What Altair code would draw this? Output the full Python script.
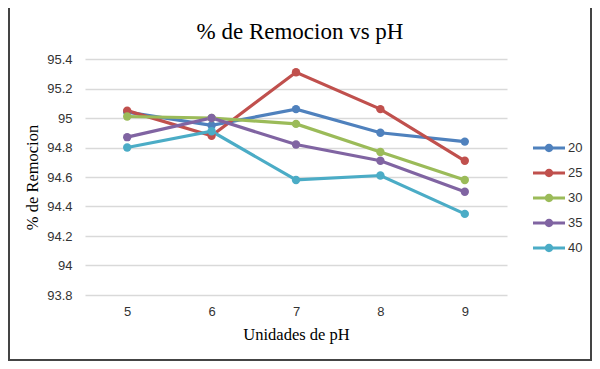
import altair as alt
import pandas as pd

ph = [5, 6, 7, 8, 9]
series = ["20", "25", "30", "35", "40"]
s20 = [95.04, 94.95, 95.06, 94.90, 94.84]
s25 = [95.05, 94.88, 95.31, 95.06, 94.71]
s30 = [95.01, 95.00, 94.96, 94.77, 94.58]
s35 = [94.87, 95.00, 94.82, 94.71, 94.50]
s40 = [94.80, 94.91, 94.58, 94.61, 94.35]
colors = ["#4F81BD", "#C0504D", "#9BBB59", "#8064A2", "#4BACC6"]
y_ticks = [93.8, 94.0, 94.2, 94.4, 94.6, 94.8, 95.0, 95.2, 95.4]

rows = []
for name, vals in zip(series, [s20, s25, s30, s35, s40]):
    for p, v in zip(ph, vals):
        rows.append({"pH": p, "serie": name, "valor": v})
df = pd.DataFrame(rows)

W, H = 422, 236
PL, PT, PR, PB = 77, 51, 85, 66

legend_path = ("M-1.6,-0.15H1.6V0.15H-1.6Z "
               "M-0.42,0A0.42,0.42 0 1,1 0.42,0A0.42,0.42 0 1,1 -0.42,0Z")

color = alt.Color(
    "serie:N",
    scale=alt.Scale(domain=series, range=colors),
    legend=alt.Legend(
        title=None, orient="none", legendX=454, legendY=79,
        symbolType=legend_path, symbolSize=400, symbolStrokeWidth=0,
        labelFont="Liberation Sans", labelFontSize=13, labelColor="#333333",
        labelOffset=9, rowPadding=8, padding=0,
    ),
)

x = alt.X("pH:O", axis=alt.Axis(
    title="Unidades de pH", labelAngle=0, ticks=False, domain=False,
    labelFont="Liberation Sans", labelFontSize=13, labelColor="#333333",
    labelPadding=10, titleFont="Liberation Serif", titleFontSize=16.5,
    titleFontWeight="normal", titleColor="#000000", titlePadding=8,
))
y = alt.Y("valor:Q", scale=alt.Scale(domain=[93.8, 95.4], zero=False, nice=False),
          axis=alt.Axis(
              title="% de Remocion", values=y_ticks, format="~f", ticks=False,
              domain=False, gridColor="#d9d9d9", gridWidth=1.3,
              labelFont="Liberation Sans", labelFontSize=13, labelColor="#333333",
              labelPadding=13, titleFont="Liberation Serif", titleFontSize=16.5,
              titleFontWeight="normal", titleColor="#000000", titlePadding=6,
          ))

base = alt.Chart(df).encode(x=x, y=y, color=color)
lines = base.mark_line(strokeWidth=3.2)
points = base.mark_circle(size=70, opacity=1)

border_data = alt.Data(values=[{"k": 1}])
left_b = alt.Chart(border_data).mark_rule(color="#444444", strokeWidth=2).encode(
    x=alt.value(-PL + 1), y=alt.value(-PT), y2=alt.value(H + PB - 1))
right_b = alt.Chart(border_data).mark_rule(color="#444444", strokeWidth=2).encode(
    x=alt.value(W + PR - 1), y=alt.value(-PT), y2=alt.value(H + PB - 1))
bottom_b = alt.Chart(border_data).mark_rule(color="#444444", strokeWidth=2).encode(
    x=alt.value(-PL), x2=alt.value(W + PR), y=alt.value(H + PB - 1))

chart = alt.layer(lines, points, left_b, right_b, bottom_b).properties(
    width=W, height=H,
    title=alt.Title("% de Remocion vs pH", font="Liberation Serif", fontSize=23,
                    fontWeight="normal", color="#000000", anchor="middle",
                    frame="group", offset=-37, dx=4),
    autosize=alt.AutoSizeParams(type="none"),
    padding={"left": PL, "top": PT, "right": PR, "bottom": PB},
    background="white",
).configure_view(stroke=None)

chart.save("out.html", embed_options={"renderer": "svg", "actions": False})
